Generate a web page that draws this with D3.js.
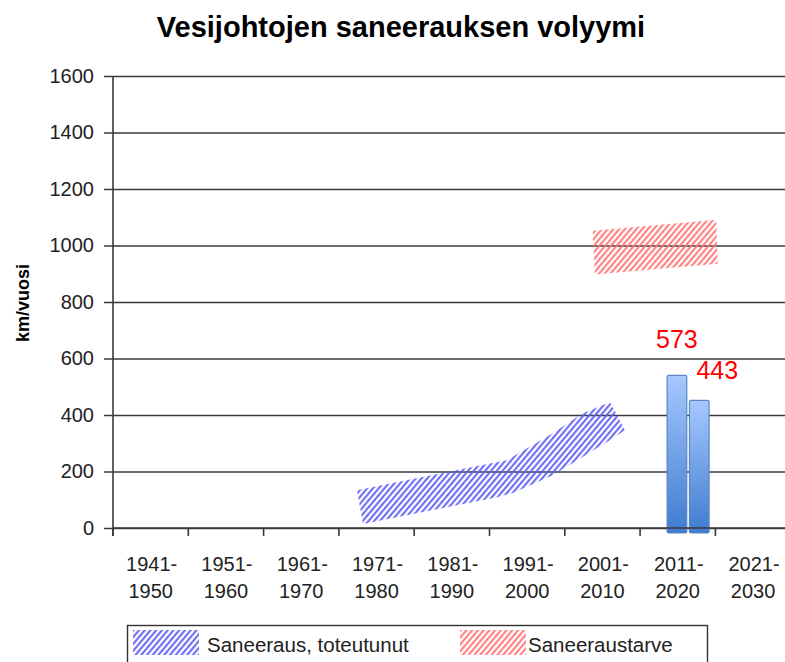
<!DOCTYPE html>
<html>
<head>
<meta charset="utf-8">
<script src="https://cdn.jsdelivr.net/npm/d3@7"></script>
<style>
  html, body { margin: 0; padding: 0; background: #fff; }
  svg { display: block; }
</style>
</head>
<body>
<svg id="chart" width="785" height="662"></svg>
<script>
// ---------------- DATA ----------------
const title = "Vesijohtojen saneerauksen volyymi";
const yAxisLabel = "km/vuosi";
const decadeStart = ["1941-", "1951-", "1961-", "1971-", "1981-", "1991-", "2001-", "2011-", "2021-"];
const decadeEnd   = ["1950", "1960", "1970", "1980", "1990", "2000", "2010", "2020", "2030"];
const yTicks = [0, 200, 400, 600, 800, 1000, 1200, 1400, 1600];

// realised renovation band (hatched blue): outline as [year, km/year]
const realisedYears  = [1972.9, 1986.2, 1992.8, 1998.9, 2002.9, 2006.5, 2008.5, 2006.1, 1998.9, 1993.6, 1991.5, 1987.5, 1973.7];
const realisedValues = [134,    205,    240,    335,    406,    445,    346,    304,    187,    124,    109,    88,     14];

// renovation need band (hatched red): outline as [year, km/year]
const needYears  = [2004.2, 2020.6, 2020.8, 2004.5];
const needValues = [1052,   1091,   935,    897];

// bars in 2011-2020
const barKeys   = ["a", "b"];
const barValues = [540, 452];
const barLabels = ["573", "443"];

const legendLabels = ["Saneeraus, toteutunut", "Saneeraustarve"];

// ---------------- LAYOUT ----------------
const svg = d3.select("#chart");
const W = 785, H = 662;
const plotLeft = 113, bandW = 75.3;
const plotTop = 76, plotBottom = 528;
const FONT = "Liberation Sans, Arial, sans-serif";

const x = d3.scaleBand()
  .domain(decadeStart.map((d, i) => i))
  .range([plotLeft, plotLeft + bandW * decadeStart.length])
  .paddingInner(0).paddingOuter(0);

const xYear = d3.scaleLinear()
  .domain([1940.5, 1940.5 + 10 * decadeStart.length])
  .range([plotLeft, plotLeft + bandW * decadeStart.length]);

const y = d3.scaleLinear().domain([0, 1600]).range([plotBottom, plotTop]);

// patterns
const defs = svg.append("defs");
function hatch(id, color) {
  const p = defs.append("pattern")
    .attr("id", id)
    .attr("patternUnits", "userSpaceOnUse")
    .attr("width", 4.4).attr("height", 10)
    .attr("patternTransform", "rotate(40)");
  p.append("line").attr("x1", 1.2).attr("y1", -1).attr("x2", 1.2).attr("y2", 11)
    .attr("stroke", color).attr("stroke-width", 1.9);
}
hatch("hatchBlue", "#5c5cf2");
hatch("hatchRed", "#ff7272");

const grad = defs.append("linearGradient").attr("id", "barGrad")
  .attr("x1", 0).attr("y1", 0).attr("x2", 0).attr("y2", 1);
grad.append("stop").attr("offset", "0%").attr("stop-color", "#a6c8ff");
grad.append("stop").attr("offset", "100%").attr("stop-color", "#3f7bcf");

// title
svg.append("text")
  .attr("x", 401).attr("y", 37)
  .attr("text-anchor", "middle")
  .attr("font-family", FONT)
  .attr("font-weight", "bold")
  .attr("font-size", 29)
  .attr("fill", "#000")
  .text(title);

// y axis label
svg.append("text")
  .attr("transform", "translate(29,303) rotate(-90)")
  .attr("text-anchor", "middle")
  .attr("font-family", FONT)
  .attr("font-weight", "bold")
  .attr("font-size", 18)
  .attr("fill", "#000")
  .text(yAxisLabel);

// grid lines + y ticks
const yAxis = d3.axisLeft(y).tickValues(yTicks).tickFormat(d3.format("d"))
  .tickSize(-(W - plotLeft)).tickSizeOuter(0).tickPadding(10);
const gy = svg.append("g").attr("transform", `translate(${plotLeft},0)`).call(yAxis);
gy.select(".domain").remove();
gy.selectAll(".tick line")
  .attr("x1", -9)
  .attr("stroke", "#3a3a3a").attr("stroke-width", 1.6);
gy.selectAll(".tick text")
  .attr("font-family", FONT)
  .attr("font-size", 20)
  .attr("fill", "#222")
  .attr("x", -19);

// realised band
const line = d3.line().curve(d3.curveLinearClosed);
svg.append("path")
  .attr("d", line(realisedYears.map((yr, i) => [xYear(yr), y(realisedValues[i])])))
  .attr("fill", "url(#hatchBlue)");

// need band
svg.append("path")
  .attr("d", line(needYears.map((yr, i) => [xYear(yr), y(needValues[i])])))
  .attr("fill", "url(#hatchRed)");

// bars in 2011-2020 band
const band2011 = x(7);
const xb = d3.scaleBand().domain(barKeys)
  .range([band2011 + 27, band2011 + 69]).paddingInner(0.12);
svg.append("g").selectAll("rect").data(barValues).join("rect")
  .attr("x", (d, i) => xb(barKeys[i]))
  .attr("y", d => y(d))
  .attr("width", xb.bandwidth())
  .attr("height", d => y(0) - y(d) + 5)
  .attr("rx", 1.5)
  .attr("fill", "url(#barGrad)")
  .attr("stroke", "#5a86c4").attr("stroke-width", 1.2);

// bar labels
const labelOffsets = [[0, -27], [18, -21]];
svg.append("g").selectAll("text").data(barLabels).join("text")
  .attr("x", (d, i) => xb(barKeys[i]) + xb.bandwidth() / 2 + labelOffsets[i][0])
  .attr("y", (d, i) => y(barValues[i]) + labelOffsets[i][1])
  .attr("text-anchor", "middle")
  .attr("font-family", "Liberation Sans Narrow, Liberation Sans, Arial, sans-serif")
  .attr("font-size", 25)
  .attr("fill", "#ff0000")
  .text(d => d);

// x axis
svg.append("line")
  .attr("x1", plotLeft).attr("x2", W)
  .attr("y1", y(0)).attr("y2", y(0))
  .attr("stroke", "#3a3a3a").attr("stroke-width", 1.6);
svg.append("line")
  .attr("x1", plotLeft).attr("x2", plotLeft)
  .attr("y1", plotTop).attr("y2", y(0) + 8)
  .attr("stroke", "#3a3a3a").attr("stroke-width", 1.6);
const bounds = d3.range(decadeStart.length + 1);
svg.append("g").selectAll("line").data(bounds).join("line")
  .attr("x1", i => plotLeft + i * x.bandwidth()).attr("x2", i => plotLeft + i * x.bandwidth())
  .attr("y1", y(0)).attr("y2", y(0) + 8)
  .attr("stroke", "#3a3a3a").attr("stroke-width", 1.6);

const xl = svg.append("g").selectAll("text").data(decadeStart).join("text")
  .attr("text-anchor", "middle")
  .attr("font-family", FONT)
  .attr("font-size", 20)
  .attr("fill", "#222");
xl.append("tspan").attr("x", (d, i) => x(i) + x.bandwidth() / 2 + 1).attr("y", 571).text(d => d);
xl.append("tspan").attr("x", (d, i) => x(i) + x.bandwidth() / 2).attr("y", 598).text((d, i) => decadeEnd[i]);

// legend
const lg = svg.append("g");
lg.append("rect")
  .attr("x", 127.5).attr("y", 625.5).attr("width", 580).attr("height", 50)
  .attr("fill", "#fff").attr("stroke", "#333").attr("stroke-width", 1.4);
const legendFills = ["url(#hatchBlue)", "url(#hatchRed)"];
const legendX = [133, 460];
legendLabels.forEach((lab, i) => {
  lg.append("rect").attr("x", legendX[i]).attr("y", 630).attr("width", 66).attr("height", 25)
    .attr("fill", legendFills[i]);
  lg.append("text").attr("x", legendX[i] + (i === 0 ? 74 : 68)).attr("y", 652)
    .attr("font-family", FONT)
    .attr("font-size", 20.5).attr("fill", "#222")
    .text(lab);
});
</script>
</body>
</html>
